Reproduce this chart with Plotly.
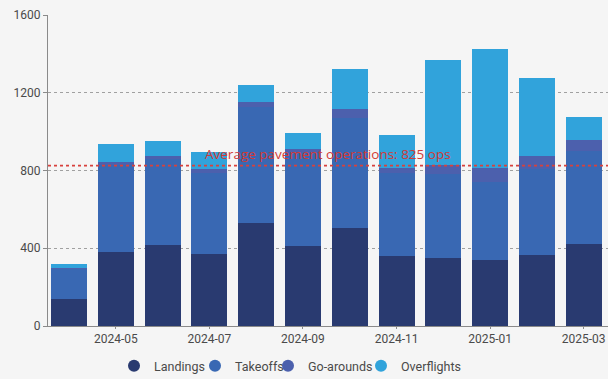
import plotly.graph_objects as go

months = ["2024-04", "2024-05", "2024-06", "2024-07", "2024-08", "2024-09",
          "2024-10", "2024-11", "2024-12", "2025-01", "2025-02", "2025-03"]
landings = [140, 380, 415, 370, 530, 410, 505, 360, 350, 340, 365, 420]
takeoffs = [155, 450, 445, 418, 595, 480, 565, 425, 430, 400, 445, 480]
go_arounds = [5, 15, 15, 20, 30, 20, 45, 30, 50, 75, 65, 55]
overflights = [20, 90, 75, 85, 85, 85, 205, 170, 540, 610, 400, 120]
avg_pavement_ops = 825
tick_labels = ["2024-05", "2024-07", "2024-09", "2024-11", "2025-01", "2025-03"]
y_ticks = [0, 400, 800, 1200, 1600]

series = [
    ("Landings", landings, "#293a70", 36),
    ("Takeoffs", takeoffs, "#3968b3", 28),
    ("Go-arounds", go_arounds, "#4c60ad", 48),
    ("Overflights", overflights, "#31a3db", 60),
]

fig = go.Figure()
for name, vals, color, _ in series:
    fig.add_trace(go.Bar(x=months, y=vals, name=name, marker_color=color,
                         marker_line_width=0, showlegend=False))
for name, vals, color, lw in series:
    fig.add_trace(go.Scatter(x=[None], y=[None], mode="markers", name=name,
                             legendwidth=lw,
                             marker=dict(color=color, size=13, symbol="circle")))

fig.add_shape(type="line", xref="paper", x0=0, x1=1, yref="y",
              y0=avg_pavement_ops, y1=avg_pavement_ops,
              line=dict(color="#d8413c", width=1.6, dash="dot"))
fig.add_annotation(xref="paper", x=0.5, yref="y", y=avg_pavement_ops,
                   yanchor="bottom", yshift=1, showarrow=False,
                   text=f"Average pavement operations: {avg_pavement_ops} ops",
                   font=dict(color="#d23a36", size=13.5, family="Open Sans"))

fig.update_layout(
    width=608, height=379,
    barmode="stack", bargap=0.23,
    paper_bgcolor="#f5f5f5", plot_bgcolor="#f5f5f5",
    margin=dict(l=48, r=0, t=15, b=53),
    font=dict(family="Roboto", size=12, color="#4a4a4a"),
    legend=dict(orientation="h", x=0.1875, xref="container", xanchor="left",
                y=0.034, yref="container", yanchor="middle",
                traceorder="normal", itemwidth=30,
                font=dict(size=12.5, color="#4a4a4a"), itemsizing="constant",
                bgcolor="rgba(0,0,0,0)"),
)
fig.update_xaxes(type="category", range=[-0.45, 11.52],
                 tickmode="array", tickvals=tick_labels, ticktext=tick_labels,
                 showgrid=False, showline=True, linecolor="#8a8a8a", linewidth=1,
                 ticks="outside", ticklen=2, tickcolor="#8a8a8a", automargin=False,
                 tickfont=dict(size=12, color="#4a4a4a"))
fig.update_yaxes(range=[0, 1600], tickvals=y_ticks, automargin=False,
                 showgrid=True, gridcolor="#a0a0a0", griddash="dot", gridwidth=1,
                 showline=True, linecolor="#8a8a8a", linewidth=1,
                 ticks="outside", ticklen=4, tickcolor="#8a8a8a",
                 zeroline=False, tickfont=dict(size=12, color="#4a4a4a"))

fig.write_html("out.html", config={"displayModeBar": False},
               post_script="document.body.style.margin='0';document.body.style.background='#f5f5f5';")
